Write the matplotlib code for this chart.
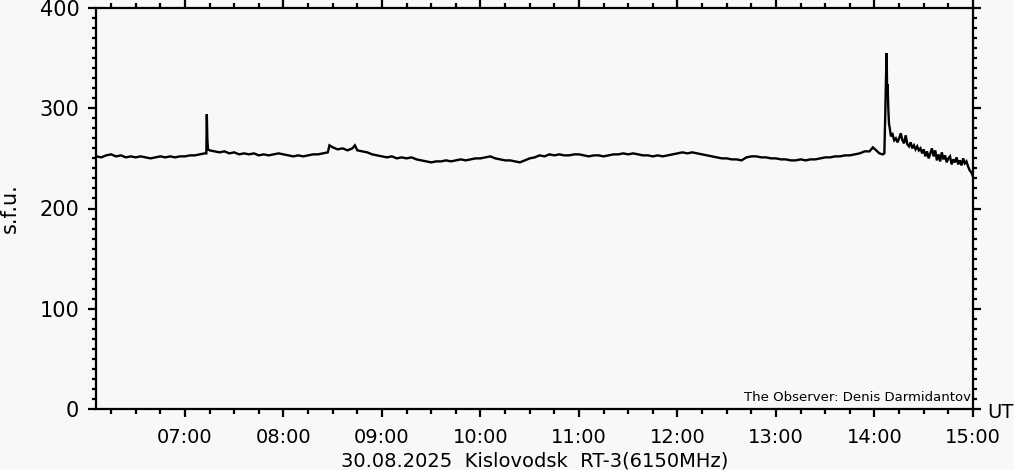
import numpy as np
import matplotlib
matplotlib.use("Agg")
import matplotlib.pyplot as plt
from matplotlib.ticker import MultipleLocator, FixedLocator

# minutes since 06:00 UT and flux (s.f.u.)
minutes = [
    6, 9, 12, 15, 18, 21, 24, 27, 30,
    33, 36, 39, 42, 45, 48, 51, 54, 57, 60,
    63, 66, 69, 72, 73, 73.3, 73.6, 74,
    75, 78, 81, 84, 87, 90, 93, 96, 99, 102, 105, 108, 111, 114, 117, 120,
    123, 126, 129, 132, 135, 138, 141, 144, 147,
    148, 150, 153, 156, 159, 162, 163.5, 165, 168, 171, 174, 177, 180,
    183, 186, 189, 192, 195, 198, 201, 204, 207, 210, 213, 216, 219, 222, 225, 228,
    231, 234, 237, 240, 243, 246, 249, 252, 255, 258, 261, 264, 267, 270, 273, 276,
    279, 282, 285, 288, 291, 294, 297, 300, 303, 306, 309, 312, 315, 318, 321, 324,
    327, 330, 333, 336, 339, 342, 345, 348, 351, 354, 357, 360, 363, 366, 369, 372,
    375, 378, 381, 384, 387, 390, 393, 396, 399, 402, 405, 408, 411, 414, 417, 420,
    423, 426, 429, 432, 435, 438, 441, 444, 447, 450, 453, 456, 459, 462, 465, 468,
    471, 474, 477, 479, 481, 483, 485, 486,
    486.5, 487, 487.4, 487.7, 488, 488.4, 488.8, 489.3, 490,
    491, 492, 493, 494, 495, 496, 497, 498, 499, 500,
    501, 502, 503, 504, 505, 506, 507, 508, 509, 510,
    511, 512, 513, 514, 515, 516, 517, 518, 519, 520,
    521, 522, 523, 524, 525, 526, 527, 528, 529, 530,
    531, 532, 533, 534, 535, 536, 537, 538, 539, 540,
]
sfu = [
    252, 251, 253, 254, 252, 253, 251, 252, 251,
    252, 251, 250, 251, 252, 251, 252, 251, 252, 252,
    253, 253, 254, 255, 255, 294, 270, 259,
    258, 257, 256, 257, 255, 256, 254, 255, 254, 255, 253, 254, 253, 254, 255, 254,
    253, 252, 253, 252, 253, 254, 254, 255, 256,
    263, 261, 259, 260, 258, 260, 263, 258, 257, 256, 254, 253, 252,
    251, 252, 250, 251, 250, 251, 249, 248, 247, 246, 247, 247, 248, 247, 248, 249,
    248, 249, 250, 250, 251, 252, 250, 249, 248, 248, 247, 246, 248, 250, 251, 253,
    252, 254, 253, 254, 253, 253, 254, 254, 253, 252, 253, 253, 252, 253, 254, 254,
    255, 254, 255, 254, 253, 253, 252, 253, 252, 253, 254, 255, 256, 255, 256, 255,
    254, 253, 252, 251, 250, 250, 249, 249, 248, 251, 252, 252, 251, 251, 250, 250,
    249, 249, 248, 248, 249, 248, 249, 249, 250, 251, 251, 252, 252, 253, 253, 254,
    255, 257, 257, 261, 258, 255, 254, 255,
    290, 330, 355, 315, 324, 300, 285, 280, 272,
    274, 268, 270, 266, 270, 275, 268, 265, 273, 264,
    262, 266, 260, 263, 259, 262, 258, 260, 255, 259,
    252, 257, 250, 255, 260, 252, 258, 248, 254, 247,
    256, 249, 253, 246, 250, 252, 244, 249, 246, 251,
    244, 248, 243, 250, 245, 247, 242, 238, 236, 232,
]

hour_labels = ["07:00", "08:00", "09:00", "10:00", "11:00", "12:00", "13:00", "14:00", "15:00"]
hour_ticks = [60, 120, 180, 240, 300, 360, 420, 480, 540]

bg = "#f8f8f8"
fig = plt.figure(figsize=(10.14, 4.70), dpi=100, facecolor=bg)
ax = fig.add_axes([96 / 1014, 1 - 409 / 470, (973 - 96) / 1014, (409 - 8) / 470])
ax.set_facecolor(bg)

ax.plot(minutes, sfu, color="black", lw=1.7, solid_joinstyle="miter")

ax.set_xlim(5.8, 540)
ax.set_ylim(0, 400)

ax.xaxis.set_major_locator(FixedLocator(hour_ticks))
ax.set_xticklabels(hour_labels)
ax.xaxis.set_minor_locator(MultipleLocator(15))
ax.yaxis.set_major_locator(MultipleLocator(100))
ax.yaxis.set_minor_locator(MultipleLocator(10))

for s in ax.spines.values():
    s.set_linewidth(1.6)

ax.tick_params(which="both", direction="out", width=1.6, color="black",
               top=True, right=True, labeltop=False, labelright=False)
ax.tick_params(axis="x", which="major", length=6, pad=8, labelsize=14)
ax.tick_params(axis="x", which="minor", length=3.5)
ax.tick_params(axis="y", which="major", length=6, pad=6, labelsize=15)
ax.tick_params(axis="y", which="minor", length=3)

ax.set_ylabel("s.f.u.", fontsize=15, labelpad=14)
fig.text(534.5 / 1014, 1 - 461 / 470, "30.08.2025  Kislovodsk  RT-3(6150MHz)",
         fontsize=14, ha="center", va="center")

ax.text(0.9975, 0.012, "The Observer: Denis Darmidantov", transform=ax.transAxes,
        ha="right", va="bottom", fontsize=9.5)
fig.text(987 / 1014, 1 - 413 / 470, "UT", fontsize=14, ha="left", va="center")

fig.savefig("out.png", dpi=100, facecolor=bg)
